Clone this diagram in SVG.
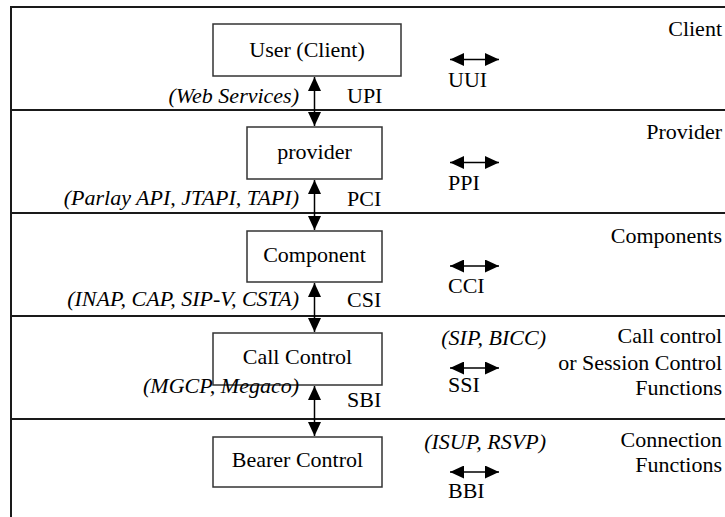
<svg xmlns="http://www.w3.org/2000/svg" width="725" height="517" viewBox="0 0 725 517" font-family="Liberation Serif, Times New Roman, DejaVu Serif, serif">
<defs>
<marker id="ah" viewBox="0 0 14 13" refX="14" refY="6.5" markerWidth="14" markerHeight="13" markerUnits="userSpaceOnUse" orient="auto-start-reverse">
<path d="M0,0 L14,6.5 L0,13 z" fill="#000"/>
</marker>
<style>
text{font-size:22px;fill:#000}
.it{font-style:italic}
.end{text-anchor:end}
.mid{text-anchor:middle}
.frame{stroke:#1a1a1a;stroke-width:2;fill:none}
.box{stroke:#333;stroke-width:1.5;fill:#fff}
.conn{stroke:#000;stroke-width:1.5;fill:none;marker-start:url(#ah);marker-end:url(#ah)}
</style>
</defs>
<g id="frame">
<path class="frame" d="M11,517 L11,7 L725,7"/>
<line class="frame" x1="11" y1="110" x2="725" y2="110"/>
<line class="frame" x1="11" y1="213" x2="725" y2="213"/>
<line class="frame" x1="11" y1="316" x2="725" y2="316"/>
<line class="frame" x1="11" y1="419" x2="725" y2="419"/>
</g>
<g id="layer-labels" font-family="Liberation Serif, serif">
<text class="end" x="722" y="36">Client</text>
<text class="end" x="722" y="139">Provider</text>
<text class="end" x="722" y="243">Components</text>
<text class="end" x="722" y="343">Call control</text>
<text class="end" x="722" y="370">or Session Control</text>
<text class="end" x="722" y="395">Functions</text>
<text class="end" x="722" y="447">Connection</text>
<text class="end" x="722" y="472">Functions</text>
</g>
<g id="user" font-family="Liberation Serif, serif">
<rect class="box" x="213" y="24" width="188" height="52"/>
<text class="mid" x="307" y="57">User (Client)</text>
</g>
<g id="provider" font-family="Liberation Serif, serif">
<rect class="box" x="247" y="127" width="135" height="52"/>
<text class="mid" x="314.5" y="159">provider</text>
</g>
<g id="component" font-family="Liberation Serif, serif">
<rect class="box" x="247" y="231" width="135" height="51"/>
<text class="mid" x="314.5" y="262">Component</text>
</g>
<g id="call-control" font-family="Liberation Serif, serif">
<rect class="box" x="213" y="333" width="169" height="52"/>
<text class="mid" x="297.5" y="364">Call Control</text>
</g>
<g id="bearer-control" font-family="Liberation Serif, serif">
<rect class="box" x="213" y="437" width="169" height="50"/>
<text class="mid" x="297.5" y="467">Bearer Control</text>
</g>
<g id="connectors">
<line class="conn" x1="314.5" y1="77" x2="314.5" y2="126"/>
<line class="conn" x1="314.5" y1="180" x2="314.5" y2="230"/>
<line class="conn" x1="314.5" y1="283" x2="314.5" y2="332"/>
<line class="conn" x1="314.5" y1="386" x2="314.5" y2="436"/>
<line class="conn" x1="450" y1="59.5" x2="499" y2="59.5"/>
<line class="conn" x1="450" y1="162.5" x2="499" y2="162.5"/>
<line class="conn" x1="450" y1="266" x2="499" y2="266"/>
<line class="conn" x1="450" y1="368" x2="499" y2="368"/>
<line class="conn" x1="450" y1="472" x2="499" y2="472"/>
</g>
<g id="interface-labels" font-family="Liberation Serif, serif">
<text class="it end" x="299" y="103">(Web Services)</text>
<text x="347" y="103">UPI</text>
<text class="it end" x="299" y="205">(Parlay API, JTAPI, TAPI)</text>
<text x="347" y="206">PCI</text>
<text class="it end" x="299" y="306">(INAP, CAP, SIP-V, CSTA)</text>
<text x="347" y="307">CSI</text>
<text class="it end" x="299" y="393">(MGCP, Megaco)</text>
<text x="347" y="407">SBI</text>
<text x="448" y="87">UUI</text>
<text x="448" y="190">PPI</text>
<text x="448" y="293">CCI</text>
<text class="it end" x="546" y="345">(SIP, BICC)</text>
<text x="448" y="392">SSI</text>
<text class="it end" x="546" y="449">(ISUP, RSVP)</text>
<text x="448" y="498">BBI</text>
</g>
</svg>
